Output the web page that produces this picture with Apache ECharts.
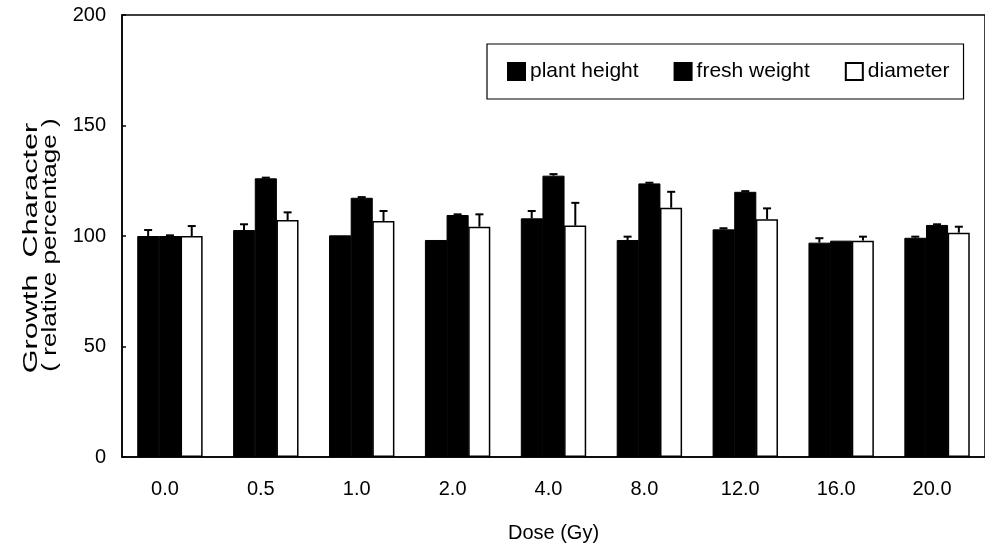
<!DOCTYPE html>
<html>
<head>
<meta charset="utf-8">
<script src="https://cdn.jsdelivr.net/npm/echarts@6/dist/echarts.min.js"></script>
<style>html,body{margin:0;padding:0;background:#fff;}#c{width:985px;height:552px;}</style>
</head>
<body>
<div id="c"></div>
<script>
const categories = ['0.0', '0.5', '1.0', '2.0', '4.0', '8.0', '12.0', '16.0', '20.0'];
const seriesNames = ['plant height', 'fresh weight', 'diameter'];
const plantHeight = [100, 102.7, 100.3, 98.2, 108, 98.2, 103, 97, 99.2];
const freshWeight = [100, 126.1, 117.3, 109.5, 127.3, 123.8, 120, 97.9, 105];
const diameter = [100, 107.2, 106.8, 104.2, 104.7, 112.8, 107.6, 97.9, 101.5];
const plantErr = [2.7, 2.6, 0, 0, 3.3, 1.5, 0.5, 2, 0.5];
const freshErr = [0.3, 0.3, 0.3, 0.3, 0.7, 0.3, 0.3, 0, 0.3];
const diameterErr = [4.5, 3.5, 4.5, 5.6, 10.3, 7.2, 4.9, 1.8, 2.7];
const yTicks = [0, 50, 100, 150, 200];

const FONT = '"Liberation Sans", Arial, sans-serif';
const GAP = 0.318;
const chart = echarts.init(document.getElementById('c'), null, {renderer: 'canvas'});

function errSeries(k, vals, errs) {
  return {
    type: 'custom',
    name: seriesNames[k] + ' err',
    z: 5,
    silent: true,
    data: vals.map((v, i) => [i, v, errs[i]]),
    renderItem: function (params, api) {
      const i = api.value(0), v = api.value(1), e = api.value(2);
      if (!e) return null;
      const band = api.size([1, 0])[0];
      const bw = band * (1 - GAP) / 3;
      const off = (k - 1) * bw;
      const p0 = api.coord([i, v]);
      const p1 = api.coord([i, v + e]);
      const x = p0[0] + off;
      return {
        type: 'group',
        children: [
          {type: 'line', shape: {x1: x, y1: p0[1], x2: x, y2: p1[1]}, style: {stroke: '#000', lineWidth: 2}},
          {type: 'line', shape: {x1: x - 4, y1: p1[1], x2: x + 4, y2: p1[1]}, style: {stroke: '#000', lineWidth: 2}}
        ]
      };
    }
  };
}

const option = {
  animation: false,
  backgroundColor: '#fff',
  textStyle: {fontFamily: FONT},
  grid: {left: 122, right: -7, top: 15, bottom: 95, show: true, borderColor: '#000', borderWidth: 1.5, backgroundColor: 'transparent'},
  legend: {
    data: seriesNames,
    left: 487, top: 44,
    orient: 'horizontal',
    icon: 'rect',
    itemWidth: 17, itemHeight: 17, itemGap: 35,
    borderColor: '#000', borderWidth: 1.2,
    padding: [17, 14, 17, 20],
    textStyle: {fontSize: 21, color: '#000', fontFamily: FONT}
  },
  xAxis: {
    type: 'category',
    data: categories,
    name: 'Dose (Gy)',
    nameLocation: 'middle',
    nameGap: 66,
    nameTextStyle: {fontSize: 20, color: '#000', fontFamily: FONT},
    axisLine: {lineStyle: {color: '#000', width: 1.5}},
    axisTick: {inside: true, length: 5, lineStyle: {color: '#000', width: 1.5}},
    axisLabel: {fontSize: 20, color: '#000', margin: 22, padding: [0, 10, 0, 0], fontFamily: FONT}
  },
  yAxis: {
    type: 'value',
    min: yTicks[0], max: yTicks[yTicks.length - 1], interval: 50,
    axisLine: {show: true, lineStyle: {color: '#000', width: 1.5}},
    axisTick: {show: true, inside: true, length: 4, lineStyle: {color: '#000', width: 1.5}},
    axisLabel: {fontSize: 20, color: '#000', margin: 16, fontFamily: FONT},
    splitLine: {show: false}
  },
  graphic: [
    {type: 'text', x: 31, y: 248, rotation: Math.PI / 2, scaleX: 1.46,
     style: {text: 'Growth  Character', fontSize: 21, fontFamily: FONT, fill: '#000', align: 'center', verticalAlign: 'middle'}},
    {type: 'text', x: 50, y: 245, rotation: Math.PI / 2, scaleX: 1.24,
     style: {text: '( relative percentage )', fontSize: 21, fontFamily: FONT, fill: '#000', align: 'center', verticalAlign: 'middle'}}
  ],
  series: [
    {name: seriesNames[0], type: 'bar', data: plantHeight, barGap: '-2%', barCategoryGap: (GAP * 100) + '%',
     itemStyle: {color: '#000', borderColor: '#000', borderWidth: 1}},
    {name: seriesNames[1], type: 'bar', data: freshWeight, barGap: '-2%', barCategoryGap: (GAP * 100) + '%',
     itemStyle: {color: '#000', borderColor: '#000', borderWidth: 1}},
    {name: seriesNames[2], type: 'bar', data: diameter, barGap: '-2%', barCategoryGap: (GAP * 100) + '%',
     itemStyle: {color: '#fff', borderColor: '#000', borderWidth: 1.5}},
    errSeries(0, plantHeight, plantErr),
    errSeries(1, freshWeight, freshErr),
    errSeries(2, diameter, diameterErr)
  ]
};
chart.setOption(option);
</script>
</body>
</html>
